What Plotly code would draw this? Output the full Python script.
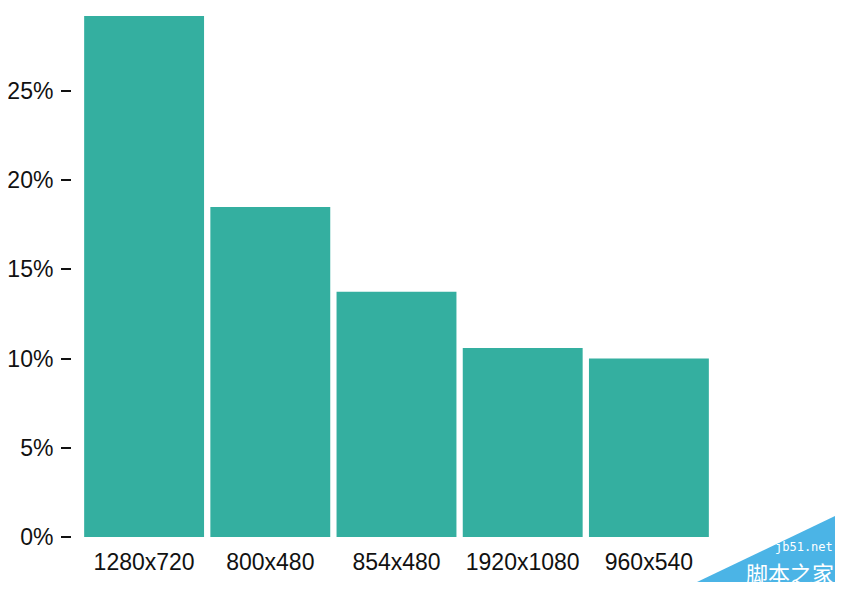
import plotly.graph_objects as go

categories = ["1280x720", "800x480", "854x480", "1920x1080", "960x540"]
shares = [29.2, 18.5, 13.75, 10.6, 10.0]
tick_vals = [0, 5, 10, 15, 20, 25]
tick_text = ["0%", "5%", "10%", "15%", "20%", "25%"]

OFF = 8  # page body margin
W, H = 845, 588
L, R, T, B = 63, 141, 0, 59
pw, ph = W - L - R, H - T - B
ymax = ph / 17.84

def px(x):
    return (x - OFF - L) / pw

def py(y):
    return (H - B - (y - OFF)) / ph

fig = go.Figure(go.Bar(
    x=categories, y=shares, marker=dict(color="#34AFA0", line=dict(width=0)),
    hoverinfo="x+y",
))

fig.update_layout(
    width=W, height=H,
    margin=dict(l=L, r=R, t=T, b=B, autoexpand=False),
    paper_bgcolor="white", plot_bgcolor="white",
    bargap=0.05,
    showlegend=False,
    font=dict(family="Liberation Sans, Arial, sans-serif", size=23, color="#111"),
    xaxis=dict(showgrid=False, showline=False, zeroline=False, ticks="",
               range=[-0.5, 4.5], domain=[px(81), 1], automargin=False,
               ticklabelstandoff=9, tickfont=dict(size=23)),
    yaxis=dict(range=[0, ymax], tickvals=tick_vals, ticktext=tick_text,
               showgrid=False, showline=False, zeroline=False,
               ticks="outside", ticklen=10, tickcolor="#111", tickwidth=1.5,
               anchor="free", position=0, automargin=False,
               ticklabelstandoff=3, tickfont=dict(size=23)),
)

# watermark
fig.add_shape(type="path", xref="paper", yref="paper",
              path=f"M {px(697)} {py(582)} L {px(835)} {py(516)} L {px(835)} {py(582)} Z",
              fillcolor="#4BB4E6", line=dict(width=0), layer="above")
fig.add_annotation(xref="paper", yref="paper", x=px(834), y=py(547), xanchor="right", yanchor="middle",
                   text="jb51.net", showarrow=False, borderpad=0,
                   font=dict(family="DejaVu Sans Mono, monospace", size=12, color="white"))
fig.add_annotation(xref="paper", yref="paper", x=px(835), y=py(572), xanchor="right", yanchor="middle",
                   text="脚本之家", showarrow=False, borderpad=0,
                   font=dict(family="Noto Sans CJK SC", size=22, color="white"))

fig.write_html("out.html")
